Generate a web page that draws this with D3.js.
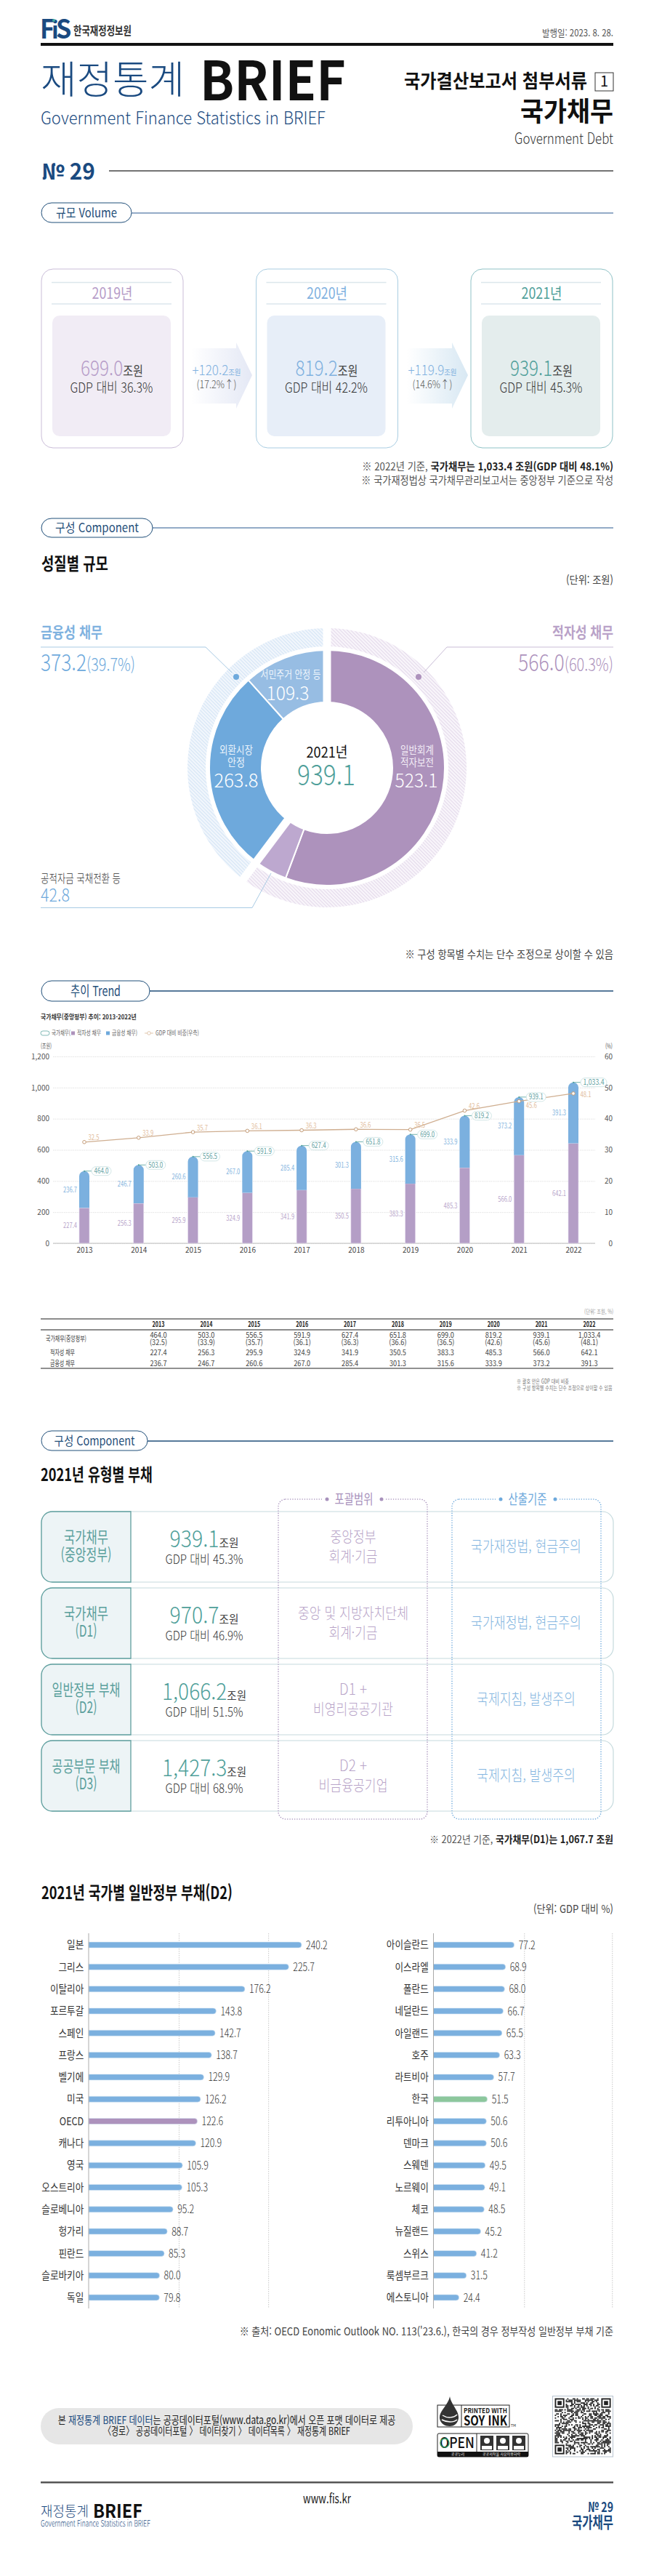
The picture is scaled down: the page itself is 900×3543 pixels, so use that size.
<!DOCTYPE html>
<html lang="ko">
<head>
<meta charset="UTF-8">
<title>재정통계 BRIEF 국가채무</title>
<script src="https://d3js.org/d3.v7.min.js"></script>
<style>
  body { margin: 0; background: #fff; }
  svg { display: block; }
  text { font-family: "Noto Sans CJK KR", "Noto Sans", sans-serif; }
</style>
</head>
<body>
<script>
// volume cards
const volumeYears = ["2019년", "2020년", "2021년"];
const volumeValues = ["699.0", "819.2", "939.1"];
const volumeRatios = ["36.3", "42.2", "45.3"];
const volumeIncrease = ["+120.2", "+119.9"];
const volumeIncreasePct = ["(17.2%↑)", "(14.6%↑)"];

// donut
const sliceNames = ["일반회계 적자보전", "공적자금 국채전환 등", "외환시장 안정", "서민주거 안정 등"];
const sliceValues = [523.1, 42.8, 263.8, 109.3];
const groupValues = [566.0, 373.2];

// trend
const years = ["2013", "2014", "2015", "2016", "2017", "2018", "2019", "2020", "2021", "2022"];
const totalDebt = [464.0, 503.0, 556.5, 591.9, 627.4, 651.8, 699.0, 819.2, 939.1, 1033.4];
const deficitDebt = [227.4, 256.3, 295.9, 324.9, 341.9, 350.5, 383.3, 485.3, 566.0, 642.1];
const financialDebt = [236.7, 246.7, 260.6, 267.0, 285.4, 301.3, 315.6, 333.9, 373.2, 391.3];
const gdpRatio = [32.5, 33.9, 35.7, 36.1, 36.3, 36.6, 36.5, 42.6, 45.6, 48.1];
const leftTicks = [0, 200, 400, 600, 800, 1000, 1200];
const rightTicks = [0, 10, 20, 30, 40, 50, 60];

// debt types
const typeNames = ["국가채무", "국가채무", "일반정부 부채", "공공부문 부채"];
const typeSubs = ["(중앙정부)", "(D1)", "(D2)", "(D3)"];
const typeValues = ["939.1", "970.7", "1,066.2", "1,427.3"];
const typeRatios = ["45.3", "46.9", "51.5", "68.9"];
const typeScope1 = ["중앙정부", "중앙 및 지방자치단체", "D1 +", "D2 +"];
const typeScope2 = ["회계·기금", "회계·기금", "비영리공공기관", "비금융공기업"];
const typeBasis = ["국가재정법, 현금주의", "국가재정법, 현금주의", "국제지침, 발생주의", "국제지침, 발생주의"];

// countries
const countriesLeft = ["일본", "그리스", "이탈리아", "포르투갈", "스페인", "프랑스", "벨기에", "미국", "OECD", "캐나다", "영국", "오스트리아", "슬로베니아", "헝가리", "핀란드", "슬로바키아", "독일"];
const valuesLeft = [240.2, 225.7, 176.2, 143.8, 142.7, 138.7, 129.9, 126.2, 122.6, 120.9, 105.9, 105.3, 95.2, 88.7, 85.3, 80.0, 79.8];
const countriesRight = ["아이슬란드", "이스라엘", "폴란드", "네덜란드", "아일랜드", "호주", "라트비아", "한국", "리투아니아", "덴마크", "스웨덴", "노르웨이", "체코", "뉴질랜드", "스위스", "룩셈부르크", "에스토니아"];
const valuesRight = [77.2, 68.9, 68.0, 66.7, 65.5, 63.3, 57.7, 51.5, 50.6, 50.6, 49.5, 49.1, 48.5, 45.2, 41.2, 31.5, 24.4];
const gridLeft = [102, 203];
const gridRight = [87, 171];

const navy = "#1f4e79", teal = "#4f9f9a", purple = "#ad92bc", blue = "#6ea9dc", brand = "#1a4a80";
const W = 900, H = 3543, L = 56, R = 844;

const svg = d3.select("body").append("svg").attr("width", W).attr("height", H);
const defs = svg.append("defs");

// o.w squeezes the text to that width, the brief uses a narrow face
function t(parent, x, y, str, o) {
  o = o || {};
  const el = parent.append("text")
    .attr("dy", "0.36em")
    .attr("text-anchor", o.anchor || "start")
    .attr("font-size", o.size || 14)
    .attr("font-weight", o.weight || 400)
    .attr("fill", o.color || "#333");
  if (Array.isArray(str)) {
    str.forEach(function (s) {
      const sp = el.append("tspan").text(s[0]);
      if (s[1].size) sp.attr("font-size", s[1].size);
      if (s[1].weight) sp.attr("font-weight", s[1].weight);
      if (s[1].color) sp.attr("fill", s[1].color);
    });
  } else {
    el.text(str);
  }
  let sx = o.sx || 1;
  if (o.w) sx = o.w / el.node().getComputedTextLength();
  el.attr("transform", "translate(" + x + "," + y + ") scale(" + sx + ",1)");
  return el;
}

function gradient(id, from, to) {
  const g = defs.append("linearGradient").attr("id", id);
  g.append("stop").attr("offset", "0%").attr("stop-color", from);
  g.append("stop").attr("offset", "100%").attr("stop-color", to);
}

function hatch(id, bg, line) {
  const p = defs.append("pattern").attr("id", id).attr("width", 3.4).attr("height", 3.4)
    .attr("patternUnits", "userSpaceOnUse").attr("patternTransform", "rotate(-45)");
  p.append("rect").attr("width", 3.4).attr("height", 3.4).attr("fill", bg);
  p.append("rect").attr("width", 1).attr("height", 3.4).attr("fill", line);
}

function sectionPill(x0, x1, y0, y1, label, size, w, lineColor, lineY) {
  svg.append("line").attr("x1", x1).attr("x2", R).attr("y1", lineY).attr("y2", lineY)
    .attr("stroke", lineColor).attr("stroke-width", 1.5);
  svg.append("rect").attr("x", x0).attr("y", y0).attr("width", x1 - x0).attr("height", y1 - y0)
    .attr("rx", 14).attr("fill", "#fff").attr("stroke", navy).attr("stroke-width", 1);
  t(svg, (x0 + x1) / 2, (y0 + y1) / 2, label, { size: size, anchor: "middle", color: navy, w: w });
}

// header
const logo = svg.append("g");
t(logo, 55, 40, "F", { size: 36, weight: 700, color: brand, sx: 0.95 });
t(logo, 71, 41, "i", { size: 32, weight: 700, color: brand });
t(logo, 77, 40, "S", { size: 36, weight: 700, color: brand, sx: 0.95 });
logo.append("circle").attr("cx", 74).attr("cy", 28).attr("r", 2).attr("fill", "#3fa9a0");
t(logo, 101, 42, "한국재정정보원", { size: 15.5, weight: 700, color: "#333", w: 80 });
t(svg, R, 45, "발행일: 2023. 8. 28.", { size: 13, anchor: "end", color: "#555", w: 98 });
svg.append("rect").attr("x", L).attr("y", 59).attr("width", R - L).attr("height", 4).attr("fill", "#111");

t(svg, 56, 110, "재정통계", { size: 53, weight: 300, color: brand, w: 198 });
t(svg, 275, 111, "BRIEF", { size: 74, weight: 700, color: "#111", w: 201 });
t(svg, 56, 162, "Government Finance Statistics in BRIEF", { size: 24, weight: 300, color: brand, w: 392 });
t(svg, 808, 112, "국가결산보고서 첨부서류", { size: 26, weight: 700, anchor: "end", color: "#111", w: 252 });
svg.append("rect").attr("x", 819).attr("y", 100).attr("width", 25).attr("height", 25).attr("fill", "none").attr("stroke", "#333").attr("stroke-width", 1);
t(svg, 831.5, 112, "1", { size: 20, anchor: "middle", color: "#111" });
t(svg, R, 154, "국가채무", { size: 37, weight: 700, anchor: "end", color: "#111", w: 128 });
t(svg, R, 190, "Government Debt", { size: 21, weight: 300, anchor: "end", color: "#333", w: 136 });

t(svg, 57, 236, "№ 29", { size: 31, weight: 700, color: brand, w: 74 });
svg.append("line").attr("x1", 150).attr("x2", R).attr("y1", 235).attr("y2", 235).attr("stroke", "#444").attr("stroke-width", 1.5);

// volume
sectionPill(57, 181, 279, 306, "규모 Volume", 17, 84, "#6f8fb5", 293);

const cardX = [57, 352.5, 648];
const cardBorder = ["#cabdd8", "#a9cde2", "#8fc2c6"];
const cardPanel = ["#f1ecf5", "#e7eef8", "#e4eded"];
const cardYear = ["#b69cc8", "#80b1df", "#4f9f9a"];
gradient("arrow0", "#ffffff", "#e4e8f5");
gradient("arrow1", "#ffffff", "#d8e8f3");

volumeYears.forEach(function (yr, i) {
  const x = cardX[i], g = svg.append("g");
  g.append("rect").attr("x", x).attr("y", 370).attr("width", 195).attr("height", 246).attr("rx", 16)
    .attr("fill", "#fff").attr("stroke", cardBorder[i]).attr("stroke-width", 1);
  [388.5, 418].forEach(function (ly) {
    g.append("line").attr("x1", x + 14).attr("x2", x + 179).attr("y1", ly).attr("y2", ly).attr("stroke", "#dbe6ec").attr("stroke-width", 1.5);
  });
  t(g, x + 97.5, 403, yr, { size: 21, anchor: "middle", color: cardYear[i], w: 56 });
  g.append("rect").attr("x", x + 15).attr("y", 434).attr("width", 163).attr("height", 166).attr("rx", 10).attr("fill", cardPanel[i]);
  t(g, x + 97, 507, [[volumeValues[i], { size: 29, weight: 300, color: cardYear[i] }], ["조원", { size: 18, color: "#444" }]], { size: 29, anchor: "middle", w: 86 });
  t(g, x + 96.5, 533, "GDP 대비 " + volumeRatios[i] + "%", { size: 19, weight: 300, anchor: "middle", color: "#333", w: 114 });
});

volumeIncrease.forEach(function (inc, i) {
  const x0 = i === 0 ? 263 : 560, g = svg.append("g");
  g.append("path")
    .attr("d", "M" + x0 + ",479H" + (x0 + 62) + "V471L" + (x0 + 84) + ",516L" + (x0 + 62) + ",562V555H" + x0 + "Z")
    .attr("fill", "url(#arrow" + i + ")");
  t(g, x0 + 35, 509, [[inc, { size: 19, weight: 300, color: "#80b1df" }], ["조원", { size: 10.5, color: "#80b1df" }]], { size: 19, anchor: "middle", w: 67 });
  t(g, x0 + 35, 529, volumeIncreasePct[i], { size: 15, weight: 300, anchor: "middle", color: "#555", w: 55 });
});

t(svg, R, 642, [["※ 2022년 기준, ", {}], ["국가채무는 1,033.4 조원(GDP 대비 48.1%)", { weight: 700, color: "#222" }]], { size: 14.5, anchor: "end", color: "#555", w: 346 });
t(svg, R, 661, "※ 국가재정법상 국가채무관리보고서는 중앙정부 기준으로 작성", { size: 14.5, anchor: "end", color: "#555", w: 347 });

// donut
sectionPill(57, 210, 713, 739, "구성 Component", 17, 115, "#6f8fb5", 726);
t(svg, 57, 775, "성질별 규모", { size: 24, weight: 700, color: "#111", w: 92 });
t(svg, R, 798, "(단위: 조원)", { size: 15, anchor: "end", color: "#444", w: 65 });

hatch("hatchPurple", "#f8f5fa", "#e3d8ea");
hatch("hatchBlue", "#f1f6fc", "#d3e4f5");

const donut = svg.append("g").attr("transform", "translate(450,1056)");
const pie = d3.pie().sort(null);
const outerArc = d3.arc().innerRadius(167).outerRadius(192);
const innerArc = d3.arc().innerRadius(90).outerRadius(162);
const sliceColor = [purple, "#bda8cf", blue, "#97bde3"];
const groupFill = ["url(#hatchPurple)", "url(#hatchBlue)"];

donut.selectAll(".outer").data(pie(groupValues)).enter().append("path")
  .attr("class", "outer").attr("d", outerArc).attr("fill", function (d, i) { return groupFill[i]; });
donut.selectAll(".inner").data(pie(sliceValues)).enter().append("path")
  .attr("class", "inner").attr("d", innerArc).attr("fill", function (d, i) { return sliceColor[i]; })
  .attr("stroke", "#fff").attr("stroke-width", 2);
// white gaps between the two groups
donut.selectAll(".gap").data(pie(groupValues)).enter().append("line")
  .attr("x1", 0).attr("y1", 0)
  .attr("x2", function (d) { return Math.sin(d.startAngle) * 200; })
  .attr("y2", function (d) { return -Math.cos(d.startAngle) * 200; })
  .attr("stroke", "#fff").attr("stroke-width", 11);

// leaders
svg.append("path").attr("d", "M56,890H283L319,925").attr("fill", "none").attr("stroke", "#a9cbe4").attr("stroke-width", 1);
svg.append("path").attr("d", "M844,890H615L583,925").attr("fill", "none").attr("stroke", "#c9bdd6").attr("stroke-width", 1);
svg.append("path").attr("d", "M56,1248.5H347L373,1201").attr("fill", "none").attr("stroke", "#a9cbe4").attr("stroke-width", 1);
svg.append("circle").attr("cx", 325).attr("cy", 931).attr("r", 4).attr("fill", blue);
svg.append("circle").attr("cx", 576).attr("cy", 931).attr("r", 4).attr("fill", purple);

const g1 = svg.append("g");
t(g1, 56, 869, "금융성 채무", { size: 21, weight: 700, color: "#7fb2df", w: 85 });
t(g1, 56, 911, [[d3.format(".1f")(groupValues[1]), { size: 32, weight: 300 }], ["(39.7%)", { size: 24, weight: 300 }]], { size: 32, color: blue, w: 130 });
t(g1, R, 869, "적자성 채무", { size: 21, weight: 700, anchor: "end", color: "#b9a2c8", w: 84 });
t(g1, R, 911, [[d3.format(".1f")(groupValues[0]), { size: 32, weight: 300 }], ["(60.3%)", { size: 24, weight: 300 }]], { size: 32, anchor: "end", color: purple, w: 131 });
t(g1, 56, 1208, sliceNames[1], { size: 16, weight: 300, color: "#333", w: 110 });
t(g1, 56, 1231, d3.format(".1f")(sliceValues[1]), { size: 25, weight: 300, color: blue, w: 40 });

t(g1, 400, 928, sliceNames[3], { size: 14.5, anchor: "middle", color: "#eef5fc", w: 83 });
t(g1, 396, 954, d3.format(".1f")(sliceValues[3]), { size: 26, weight: 300, anchor: "middle", color: "#fff", w: 59 });
t(g1, 325, 1032, "외환시장", { size: 14.5, anchor: "middle", color: "#eaf3fb", w: 46 });
t(g1, 325, 1049, "안정", { size: 14.5, anchor: "middle", color: "#eaf3fb", w: 24 });
t(g1, 325, 1074, d3.format(".1f")(sliceValues[2]), { size: 26, weight: 300, anchor: "middle", color: "#fff", w: 61 });
t(g1, 574, 1032, "일반회계", { size: 14.5, anchor: "middle", color: "#f3edf6", w: 46 });
t(g1, 574, 1049, "적자보전", { size: 14.5, anchor: "middle", color: "#f3edf6", w: 46 });
t(g1, 573, 1074, d3.format(".1f")(sliceValues[0]), { size: 26, weight: 300, anchor: "middle", color: "#fff", w: 59 });
t(g1, 450, 1035, "2021년", { size: 20, anchor: "middle", color: "#111", w: 57 });
t(g1, 449, 1066, "939.1", { size: 39, weight: 300, anchor: "middle", color: teal, w: 80 });

t(svg, R, 1313, "※ 구성 항목별 수치는 단수 조정으로 상이할 수 있음", { size: 14.5, anchor: "end", color: "#444", w: 287 });

// trend
sectionPill(57, 206, 1349, 1377, "추이 Trend", 19, 69, navy, 1363);
t(svg, 56, 1399, "국가채무(중앙정부) 추이: 2013-2022년", { size: 9.5, weight: 700, color: "#333", w: 132 });

const x = d3.scalePoint().domain(years).range([116, 789]);
const y = d3.scaleLinear().domain([0, 1200]).range([1710, 1453]);
const y2 = d3.scaleLinear().domain([0, 60]).range([1710, 1453]);
const barW = 14;

const axisL = svg.append("g").attr("transform", "translate(73,0)")
  .call(d3.axisLeft(y).tickValues(leftTicks).tickFormat(d3.format(",")).tickSize(-746).tickPadding(5));
axisL.select(".domain").remove();
axisL.selectAll("line").attr("stroke", "#e2e2e2").attr("stroke-dasharray", "1.5 1");
axisL.selectAll("text").attr("font-size", 10).attr("fill", "#555").attr("font-family", null);

const axisR = svg.append("g").attr("transform", "translate(843,0)")
  .call(d3.axisLeft(y2).tickValues(rightTicks).tickSize(0).tickPadding(0));
axisR.select(".domain").remove();
axisR.selectAll("text").attr("font-size", 10).attr("fill", "#555");

svg.append("line").attr("x1", 73).attr("x2", 819).attr("y1", y(0)).attr("y2", y(0)).attr("stroke", "#bdbdbd").attr("stroke-width", 1);

const axisB = svg.append("g").attr("transform", "translate(0," + y(0) + ")")
  .call(d3.axisBottom(x).tickSize(0).tickPadding(6));
axisB.select(".domain").remove();
axisB.selectAll("text").attr("font-size", 10).attr("fill", "#444");

t(svg, 56, 1439, "(조원)", { size: 9, color: "#555", w: 15 });
t(svg, 843, 1439, "(%)", { size: 9, anchor: "end", color: "#555", w: 10 });

// legend
const lg = svg.append("g");
lg.append("rect").attr("x", 56).attr("y", 1418).attr("width", 12).attr("height", 6).attr("rx", 3).attr("fill", "#fff").attr("stroke", teal).attr("stroke-width", 0.7);
t(lg, 71, 1421, "국가채무(", { size: 9, color: "#666", w: 26 });
lg.append("rect").attr("x", 98).attr("y", 1418.5).attr("width", 5).attr("height", 5).attr("fill", purple);
t(lg, 106, 1421, "적자성 채무", { size: 9, color: "#666", w: 33 });
lg.append("rect").attr("x", 146).attr("y", 1418.5).attr("width", 5).attr("height", 5).attr("fill", blue);
t(lg, 154, 1421, "금융성 채무)", { size: 9, color: "#666", w: 35 });
lg.append("line").attr("x1", 199).attr("x2", 211).attr("y1", 1421).attr("y2", 1421).attr("stroke", "#d9b99b").attr("stroke-width", 0.8);
lg.append("circle").attr("cx", 205).attr("cy", 1421).attr("r", 2.3).attr("fill", "#fff").attr("stroke", "#d9b99b").attr("stroke-width", 0.8);
t(lg, 214, 1421, "GDP 대비 비중(우측)", { size: 9, color: "#666", w: 60 });

// bars
const bars = svg.append("g");
bars.selectAll(".deficit").data(years).enter().append("rect")
  .attr("class", "deficit")
  .attr("x", function (d) { return x(d) - barW / 2; })
  .attr("y", function (d, i) { return y(deficitDebt[i]); })
  .attr("width", barW)
  .attr("height", function (d, i) { return y(0) - y(deficitDebt[i]); })
  .attr("fill", "#b49ec6")
  .attr("stroke", "#e8dff0").attr("stroke-width", 0.6);
bars.selectAll(".financial").data(years).enter().append("path")
  .attr("class", "financial")
  .attr("d", function (d, i) {
    const x0 = x(d) - barW / 2, x1 = x(d) + barW / 2, top = y(totalDebt[i]), bottom = y(deficitDebt[i]);
    const r = barW / 2;
    return "M" + x0 + "," + bottom + "V" + (top + r) + "A" + r + "," + r + " 0 0 1 " + x1 + "," + (top + r) + "V" + bottom + "Z";
  })
  .attr("fill", "#7bb0df");

years.forEach(function (yr, i) {
  const cx = x(yr);
  t(bars, cx - 10, y(deficitDebt[i] / 2), deficitDebt[i].toFixed(1), { size: 10, anchor: "end", color: "#b9a6cb", w: 19 });
  t(bars, cx - 10, y(deficitDebt[i] + financialDebt[i] / 2), financialDebt[i].toFixed(1), { size: 10, anchor: "end", color: "#85b5e0", w: 19 });
});

// gdp line
const line = d3.line().x(function (d, i) { return x(years[i]); }).y(function (d) { return y2(d); });
const lineG = svg.append("g");
lineG.append("path").datum(gdpRatio).attr("d", line).attr("fill", "none").attr("stroke", "#cfae90").attr("stroke-width", 1.3);
lineG.selectAll("circle").data(gdpRatio).enter().append("circle")
  .attr("cx", function (d, i) { return x(years[i]); })
  .attr("cy", function (d) { return y2(d); })
  .attr("r", 2.3).attr("fill", "#fff").attr("stroke", "#c49c78").attr("stroke-width", 1);
gdpRatio.forEach(function (v, i) {
  const px = x(years[i]), py = y2(v);
  let dx = 13, dy = -6;
  if (i === 8) { dx = 17; dy = 6; }
  if (i === 9) { dx = 17; dy = 1; }
  t(lineG, px + dx, py + dy, v.toFixed(1), { size: 10, anchor: "middle", color: "#e2bd9c", w: 15 });
});

// total pills sit over the line
const pills = svg.append("g");
years.forEach(function (yr, i) {
  const cx = x(yr), top = y(totalDebt[i]);
  const label = d3.format(",.1f")(totalDebt[i]);
  const pw = label.length > 5 ? 36 : 27;
  pills.append("line").attr("x1", cx).attr("x2", cx + 10).attr("y1", top).attr("y2", top).attr("stroke", teal).attr("stroke-width", 0.8);
  pills.append("circle").attr("cx", cx).attr("cy", top).attr("r", 1).attr("fill", teal);
  pills.append("rect").attr("x", cx + 10).attr("y", top - 6).attr("width", pw).attr("height", 12).attr("rx", 6)
    .attr("fill", "#fff").attr("stroke", "#c6e0df").attr("stroke-width", 0.8);
  t(pills, cx + 10 + pw / 2, top, label, { size: 10, anchor: "middle", color: "#5f9f9f", w: pw - 7 });
});

// table
const tb = svg.append("g");
const colX = d3.scalePoint().domain(years).range([218, 811]);
t(tb, R, 1804, "(단위: 조원, %)", { size: 8.5, anchor: "end", color: "#999", w: 40 });
tb.append("line").attr("x1", L).attr("x2", R).attr("y1", 1814).attr("y2", 1814).attr("stroke", "#666").attr("stroke-width", 1.5);
tb.append("line").attr("x1", L).attr("x2", R).attr("y1", 1829).attr("y2", 1829).attr("stroke", "#666").attr("stroke-width", 1.5);
tb.append("line").attr("x1", L).attr("x2", R).attr("y1", 1882).attr("y2", 1882).attr("stroke", "#222").attr("stroke-width", 1);
t(tb, 63, 1841, "국가채무(중앙정부)", { size: 10, color: "#444", w: 56 });
t(tb, 69, 1860, "적자성 채무", { size: 10, color: "#444", w: 34 });
t(tb, 69, 1875, "금융성 채무", { size: 10, color: "#444", w: 34 });
years.forEach(function (yr, i) {
  const cx = colX(yr);
  t(tb, cx, 1821, yr, { size: 10, weight: 700, anchor: "middle", color: "#222", w: 17 });
  t(tb, cx, 1836, d3.format(",.1f")(totalDebt[i]), { size: 10.5, anchor: "middle", color: "#444", sx: 0.88 });
  t(tb, cx, 1846, "(" + gdpRatio[i].toFixed(1) + ")", { size: 10.5, anchor: "middle", color: "#444", sx: 0.88 });
  t(tb, cx, 1860, deficitDebt[i].toFixed(1), { size: 10.5, anchor: "middle", color: "#444", sx: 0.88 });
  t(tb, cx, 1875, financialDebt[i].toFixed(1), { size: 10.5, anchor: "middle", color: "#444", sx: 0.88 });
});
t(tb, 711, 1900, "※ 괄호 안은 GDP 대비 비중", { size: 8.5, color: "#777", w: 72 });
t(tb, 711, 1909, "※ 구성 항목별 수치는 단수 조정으로 상이할 수 있음", { size: 8.5, color: "#777", w: 132 });

// debt types
sectionPill(57, 203, 1968, 1995, "구성 Component", 17, 111, navy, 1982);
t(svg, 56, 2028, "2021년 유형별 부채", { size: 24, weight: 700, color: "#111", w: 154 });

const types = svg.append("g");
const rowY = d3.scalePoint().domain(typeNames.map(function (d, i) { return i; })).range([2079, 2394]);
const nameW = [61, 61, 94, 94], subW = [70, 30, 30, 30], valW = [95, 95, 116, 116], scope1W = [63, 152, 38, 38], scope2W = [67, 67, 110, 95], basisW = [152, 152, 136, 136];
typeNames.forEach(function (name, i) {
  const y0 = rowY(i), h = 97, mid = y0 + h / 2;
  types.append("rect").attr("x", 57).attr("y", y0).attr("width", 787).attr("height", h).attr("rx", 15)
    .attr("fill", "#fff").attr("stroke", "#c5dadd").attr("stroke-width", 1.2);
  types.append("path")
    .attr("d", "M180," + y0 + "H72A15,15 0 0 0 57," + (y0 + 15) + "V" + (y0 + h - 15) + "A15,15 0 0 0 72," + (y0 + h) + "H180Z")
    .attr("fill", "#edf4f6").attr("stroke", "#5f9f9e").attr("stroke-width", 1.3);
  t(types, 118.5, mid - 13, name, { size: 22, anchor: "middle", color: "#5a9f9c", w: nameW[i] });
  t(types, 118.5, mid + 11, typeSubs[i], { size: 22, anchor: "middle", color: "#5a9f9c", w: subW[i] });
  t(types, 281, mid - 11, [[typeValues[i], { size: 31, weight: 300, color: teal }], ["조원", { size: 16, color: "#444" }]], { size: 31, anchor: "middle", w: valW[i] });
  t(types, 281, mid + 17, "GDP 대비 " + typeRatios[i] + "%", { size: 17, weight: 300, anchor: "middle", color: "#333", w: 107 });
  t(types, 486, mid - 14, typeScope1[i], { size: 21, weight: 300, anchor: "middle", color: "#b8a4c8", w: scope1W[i] });
  t(types, 486, mid + 13, typeScope2[i], { size: 21, weight: 300, anchor: "middle", color: "#b8a4c8", w: scope2W[i] });
  t(types, 724, mid - 1, typeBasis[i], { size: 21, weight: 300, anchor: "middle", color: "#83b5e0", w: basisW[i] });
});

[[383, 205, "포괄범위", "#a892bc"], [622, 205, "산출기준", "#6ea9dc"]].forEach(function (b) {
  types.append("rect").attr("x", b[0]).attr("y", 2062).attr("width", b[1]).attr("height", 440).attr("rx", 10)
    .attr("fill", "none").attr("stroke", b[3]).attr("stroke-width", 1.5).attr("stroke-linecap", "round").attr("stroke-dasharray", "0.1 3.2");
  const c = b[0] + b[1] / 2 + 1.5;
  types.append("rect").attr("x", c - 44).attr("y", 2052).attr("width", 88).attr("height", 20).attr("fill", "#fff");
  types.append("circle").attr("cx", c - 37).attr("cy", 2062).attr("r", 2.5).attr("fill", b[3]);
  types.append("circle").attr("cx", c + 38).attr("cy", 2062).attr("r", 2.5).attr("fill", b[3]);
  t(types, c, 2062, b[2], { size: 19, anchor: "middle", color: b[3], w: 53 });
});

t(svg, R, 2530, [["※ 2022년 기준, ", {}], ["국가채무(D1)는 1,067.7 조원", { weight: 700, color: "#222" }]], { size: 14, anchor: "end", color: "#555", w: 253 });

// countries
t(svg, 57, 2603, "2021년 국가별 일반정부 부채(D2)", { size: 24, weight: 700, color: "#111", w: 263 });
t(svg, R, 2626, "(단위: GDP 대비 %)", { size: 15, anchor: "end", color: "#444", w: 110 });

function barColumn(names, values, x0, pxPerUnit, gridValues) {
  const g = svg.append("g");
  const xs = d3.scaleLinear().domain([0, 100]).range([x0, x0 + pxPerUnit * 100]);
  const ys = d3.scalePoint().domain(names).range([2675, 3160]);

  gridValues.forEach(function (v) {
    g.append("line").attr("x1", xs(v)).attr("x2", xs(v)).attr("y1", 2659).attr("y2", 3175)
      .attr("stroke", "#c9c9c9").attr("stroke-dasharray", "1.5 1.5");
  });
  g.selectAll(".bar").data(names).enter().append("path")
    .attr("class", "bar")
    .attr("d", function (d, i) {
      const yc = ys(d), hh = 4, end = xs(values[i]);
      return "M" + xs(0) + "," + (yc - hh) + "H" + (end - hh) + "A" + hh + "," + hh + " 0 0 1 " + (end - hh) + "," + (yc + hh) + "H" + xs(0) + "Z";
    })
    .attr("fill", function (d) { return d === "OECD" ? purple : d === "한국" ? "#8cc79c" : "#7bb0df"; })
    .attr("stroke", "#d8e7f4").attr("stroke-width", 0.6);
  const axis = g.append("g").attr("transform", "translate(" + x0 + ",0)")
    .call(d3.axisLeft(ys).tickSize(0).tickPadding(8));
  axis.select(".domain").remove();
  axis.selectAll("text").attr("font-size", 15).attr("fill", "#333").attr("transform", "scale(0.84,1)");
  g.append("line").attr("x1", x0).attr("x2", x0).attr("y1", 2659).attr("y2", 3175).attr("stroke", "#aaa");
  names.forEach(function (d, i) {
    t(g, xs(values[i]) + 6, ys(d), values[i].toFixed(1), { size: 15.5, weight: 300, color: "#333", sx: 0.8 });
  });
}
barColumn(countriesLeft, valuesLeft, 122, 1.22, gridLeft);
barColumn(countriesRight, valuesRight, 596.5, 1.44, gridRight);

t(svg, R, 3207, "※ 출처: OECD Eonomic Outlook NO. 113('23.6.), 한국의 경우 정부작성 일반정부 부채 기준", { size: 15, anchor: "end", color: "#444", w: 515 });

// bottom notice and marks
svg.append("rect").attr("x", 56).attr("y", 3312).attr("width", 512).attr("height", 50).attr("rx", 25).attr("fill", "#e6e6e6");
t(svg, 312, 3329, [["본 ", {}], ["재정통계 BRIEF 데이터", { color: brand }], ["는 공공데이터포털(www.data.go.kr)에서 오픈 포맷 데이터로 제공", {}]], { size: 15, anchor: "middle", color: "#222", w: 465 });
t(svg, 312, 3344, "〈경로〉 공공데이터포털 〉 데이터찾기 〉 데이터목록 〉 재정통계 BRIEF", { size: 15, anchor: "middle", color: "#222", w: 340 });

const soy = svg.append("g");
soy.append("rect").attr("x", 602).attr("y", 3308).attr("width", 99).attr("height", 30).attr("fill", "#fff").attr("stroke", "#222");
soy.append("line").attr("x1", 635).attr("x2", 635).attr("y1", 3308).attr("y2", 3338).attr("stroke", "#222");
soy.append("path").attr("d", "M619,3296C621,3308 632,3316 631,3326C630,3334 624,3337 619,3337C613,3337 606,3334 605,3326C604,3316 617,3308 619,3296Z").attr("fill", "#333");
soy.append("path").attr("d", "M609,3322C615,3326 624,3326 629,3321M608,3328C615,3332 624,3332 629,3328").attr("fill", "none").attr("stroke", "#fff").attr("stroke-width", 1.5);
t(soy, 638, 3316, "PRINTED WITH", { size: 9.5, weight: 700, color: "#222", w: 60 });
t(soy, 638, 3330, "SOY INK", { size: 18, weight: 700, color: "#111", w: 60 });
t(soy, 703, 3336, "TM", { size: 5, color: "#222" });

const open = svg.append("g");
open.append("rect").attr("x", 602).attr("y", 3347).attr("width", 125).attr("height", 32).attr("rx", 2).attr("fill", "#fff").attr("stroke", "#222");
open.append("rect").attr("x", 602).attr("y", 3372).attr("width", 125).attr("height", 7).attr("fill", "#111");
open.append("line").attr("x1", 656).attr("x2", 656).attr("y1", 3347).attr("y2", 3372).attr("stroke", "#222");
t(open, 605, 3360, "OPEN", { size: 20, weight: 500, color: "#111", w: 48 });
open.append("circle").attr("cx", 612).attr("cy", 3360).attr("r", 6).attr("fill", "none").attr("stroke", "#2d9a62").attr("stroke-width", 1.4);
[661, 683, 705].forEach(function (ix) {
  open.append("rect").attr("x", ix).attr("y", 3350).attr("width", 18).attr("height", 20).attr("fill", "#333");
  open.append("rect").attr("x", ix + 2).attr("y", 3364).attr("width", 14).attr("height", 5).attr("fill", "#fff");
  open.append("circle").attr("cx", ix + 9).attr("cy", 3357).attr("r", 4).attr("fill", "#fff");
});
t(open, 630, 3375.5, "공공누리", { size: 5, anchor: "middle", color: "#fff" });
t(open, 690, 3375.5, "공공저작물 자유이용허락", { size: 5, anchor: "middle", color: "#fff" });

// qr mark
const qr = svg.append("g");
qr.append("rect").attr("x", 760.5).attr("y", 3295.5).attr("width", 83).attr("height", 83.5).attr("fill", "#fff").attr("stroke", "#b7c3cf");
const qrN = 41, qrS = 1.88, qrX = 763.5, qrY = 3298.5;
let qrState = 0xACE1;
for (let r = 0; r < qrN; r++) {
  for (let c = 0; c < qrN; c++) {
    qrState = (qrState >> 1) ^ (-(qrState & 1) & 0xB400);
    if (((r < 8 && c < 8) || (r < 8 && c >= qrN - 8) || (r >= qrN - 8 && c < 8))) continue;
    if (qrState & 1) qr.append("rect").attr("x", qrX + c * qrS).attr("y", qrY + r * qrS).attr("width", qrS).attr("height", qrS).attr("fill", "#222");
  }
}
[[0, 0], [qrN - 7, 0], [0, qrN - 7]].forEach(function (f) {
  const fx = qrX + f[0] * qrS, fy = qrY + f[1] * qrS;
  qr.append("rect").attr("x", fx + qrS / 2).attr("y", fy + qrS / 2).attr("width", 6 * qrS).attr("height", 6 * qrS).attr("fill", "#fff").attr("stroke", "#222").attr("stroke-width", qrS);
  qr.append("rect").attr("x", fx + 2 * qrS).attr("y", fy + 2 * qrS).attr("width", 3 * qrS).attr("height", 3 * qrS).attr("fill", "#222");
});

// footer
svg.append("rect").attr("x", L).attr("y", 3413).attr("width", R - L).attr("height", 2.5).attr("fill", "#555");
t(svg, 450, 3437, "www.fis.kr", { size: 18, anchor: "middle", color: "#222", w: 66 });
t(svg, 56, 3454, "재정통계", { size: 19, weight: 300, color: brand, w: 66 });
t(svg, 128, 3454, "BRIEF", { size: 26, weight: 700, color: "#111", w: 68 });
t(svg, 56, 3471, "Government Finance Statistics in BRIEF", { size: 12, weight: 300, color: brand, w: 151 });
t(svg, R, 3448, "№ 29", { size: 19, weight: 700, anchor: "end", color: brand, w: 35 });
t(svg, R, 3469, "국가채무", { size: 22, weight: 700, anchor: "end", color: brand, w: 57 });
</script>
</body>
</html>
